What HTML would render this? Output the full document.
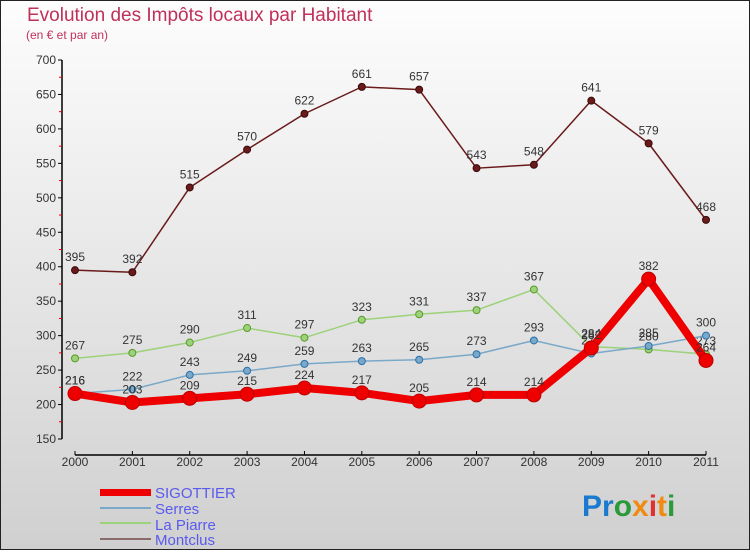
<!DOCTYPE html>
<html><head><meta charset="utf-8"><style>
body{margin:0;width:750px;height:550px;overflow:hidden;font-family:"Liberation Sans",sans-serif}
svg text{font-family:"Liberation Sans",sans-serif}
</style></head><body>
<svg id="chart" width="750" height="550" xmlns="http://www.w3.org/2000/svg">
<defs><linearGradient id="bg" x1="0" y1="0" x2="0" y2="1"><stop offset="0" stop-color="#fdfdfd"/><stop offset="1" stop-color="#d0d0d0"/></linearGradient></defs>
<rect x="0.5" y="0.5" width="749" height="549" fill="url(#bg)" stroke="#222"/>
<text x="27" y="21" font-size="19" fill="#c0305a">Evolution des Impôts locaux par Habitant</text>
<text x="26" y="39" font-size="12" fill="#c0305a">(en € et par an)</text>
<g id="axes"></g><g id="series"></g>
<g>
<rect x="100" y="489" width="51" height="7" fill="#e00"/>
<rect x="100" y="507" width="51" height="2" fill="#7aa8c8"/>
<rect x="100" y="522" width="51" height="2" fill="#9cd27a"/>
<rect x="100" y="538" width="51" height="2" fill="#8a6a6a"/>
<text x="155" y="498" font-size="15" fill="#5a5aee">SIGOTTIER</text>
<text x="155" y="514" font-size="15" fill="#5a5aee">Serres</text>
<text x="155" y="530" font-size="15" fill="#5a5aee">La Piarre</text>
<text x="155" y="545" font-size="15" fill="#5a5aee">Montclus</text>
</g>
<text x="582" y="516" font-size="30" font-weight="bold"><tspan fill="#1a7ad0">Pr</tspan><tspan fill="#2a9a3a">o</tspan><tspan fill="#f08a10">x</tspan><tspan fill="#e03030">i</tspan><tspan fill="#f08a10">t</tspan><tspan fill="#2a9a3a">i</tspan></text>
</svg>
<script>
const years=[2000,2001,2002,2003,2004,2005,2006,2007,2008,2009,2010,2011];
const yTicks=[150,200,250,300,350,400,450,500,550,600,650,700];
const sigottier=[216,203,209,215,224,217,205,214,214,282,382,264];
const serres=[216,222,243,249,259,263,265,273,293,274,285,300];
const laPiarre=[267,275,290,311,297,323,331,337,367,284,280,273];
const montclus=[395,392,515,570,622,661,657,543,548,641,579,468];
const NS="http://www.w3.org/2000/svg";
const X=i=>75+i*(706-75)/11;
const Y=v=>60+(700-v)*(439-60)/550;
function mk(tag,attrs,parent,txt){const e=document.createElementNS(NS,tag);for(const k in attrs)e.setAttribute(k,attrs[k]);if(txt!==undefined)e.textContent=txt;parent.appendChild(e);return e;}
const ax=document.getElementById('axes');
let a=mk('line',{x1:62,y1:60,x2:62,y2:439,stroke:'#000','stroke-width':1.5},ax);

yTicks.forEach(v=>{
 mk('line',{x1:58,y1:Y(v),x2:62,y2:Y(v),stroke:'#000'},ax);
 const t=mk('text',{x:56,y:Y(v)+4,'font-size':12,fill:'#333','text-anchor':'end'},ax,v);
 
 if(v<700)mk('line',{x1:59,y1:Y(v+25),x2:62,y2:Y(v+25),stroke:'#e00'},ax);
});
a=mk('line',{x1:75,y1:455,x2:706,y2:455,stroke:'#000','stroke-width':1.5},ax);

years.forEach((y,i)=>{
 mk('line',{x1:X(i),y1:455,x2:X(i),y2:451,stroke:'#000'},ax);
 const t=mk('text',{x:X(i),y:466,'font-size':12,fill:'#333','text-anchor':'middle'},ax,y);
 
});
const sg=document.getElementById('series');
function draw(vals,name,color,dark,w,r){
 const g=mk('g',{},sg);
 
 const l=mk('polyline',{points:vals.map((v,i)=>X(i)+','+Y(v)).join(' '),fill:'none',stroke:color,'stroke-width':w,'stroke-linejoin':'round'},g);
 
 vals.forEach((v,i)=>{
  const c=mk('circle',{cx:X(i),cy:Y(v),r:r,fill:color,stroke:dark,'stroke-width':1},g);
  
  const t=mk('text',{x:X(i),y:Y(v)-9,'font-size':12,fill:'#333','text-anchor':'middle'},g,v);
  
 });
}
draw(montclus,'montclus','#6a1a1a','#3a0a0a',1.5,3.5);
draw(laPiarre,'la-piarre','#9cd27a','#5a9a2a',1.5,3.5);
draw(serres,'serres','#7aa8c8','#2a70a8',1.5,3.5);
draw(sigottier,'sigottier','#e00','#b00',8,7);
</script>
</body></html>
